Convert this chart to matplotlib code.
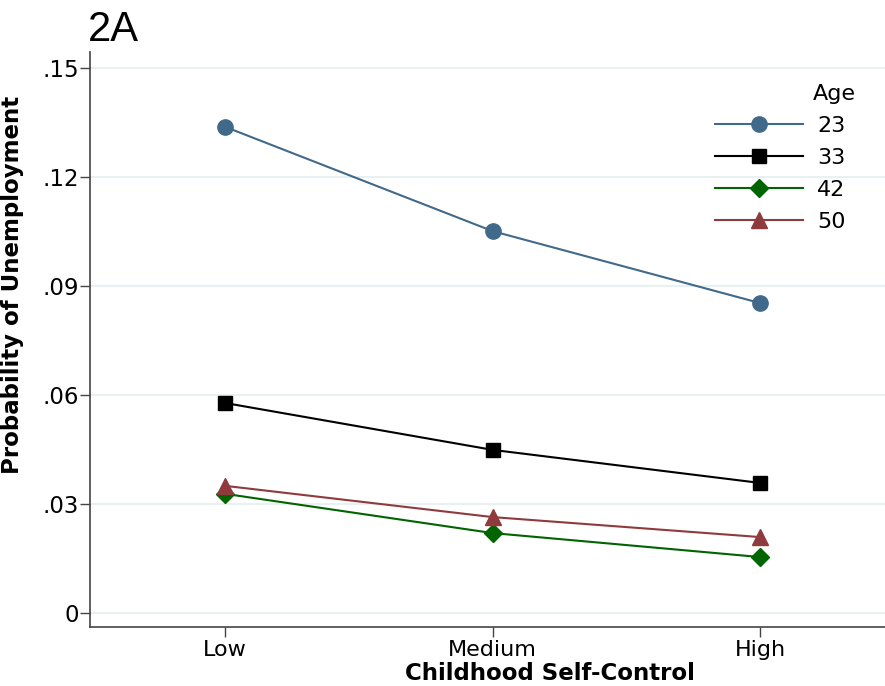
import matplotlib
matplotlib.use('Agg')
import matplotlib.pyplot as plt

# Data
levels = ['Low', 'Medium', 'High']
ages = ['23', '33', '42', '50']
age23 = [0.1338, 0.1051, 0.0853]
age33 = [0.0578, 0.0449, 0.0358]
age42 = [0.0328, 0.0220, 0.0154]
age50 = [0.0350, 0.0264, 0.0209]
yticks = [0, 0.03, 0.06, 0.09, 0.12, 0.15]
ytick_labels = ['0', '.03', '.06', '.09', '.12', '.15']

plt.rcParams['font.family'] = 'DejaVu Sans'

fig = plt.figure(figsize=(8.85, 6.86), dpi=100)
ax = fig.add_axes([90 / 885, 59 / 686, 795 / 885, 575 / 686])

x = list(range(len(levels)))
series = [
    (age23, '#41698a', 'o', 11),
    (age33, '#000000', 's', 10.5),
    (age42, '#006400', 'D', 9),
    (age50, '#8f3a3d', '^', 11),
]
for (vals, col, mk, ms), lab in zip(series, ages):
    ax.plot(x, vals, color=col, marker=mk, markersize=ms, linewidth=1.5, label=lab)

ax.set_xlim(-0.505, 2.467)
ax.set_ylim(-0.00385, 0.1544)
ax.set_xticks(x)
ax.set_xticklabels(levels)
ax.set_yticks(yticks)
ax.set_yticklabels(ytick_labels)
ax.grid(axis='y', color='#e8f0f2', linewidth=1.5)
ax.set_axisbelow(True)

for s in ['top', 'right']:
    ax.spines[s].set_visible(False)
for s in ['left', 'bottom']:
    ax.spines[s].set_color('#444444')
    ax.spines[s].set_linewidth(1.2)
ax.tick_params(axis='x', labelsize=16, length=7, color='#444444', width=1.0, pad=2)
ax.tick_params(axis='y', labelsize=16.5, length=7, color='#444444', width=1.0, pad=1)

ax.set_xlabel('Childhood Self-Control', fontsize=16.5, fontweight='bold')
ax.xaxis.set_label_coords(0.579, -0.06)
ax.set_ylabel('Probability of Unemployment', fontsize=16.5, fontweight='bold')
ax.yaxis.set_label_coords(-0.083, 0.595)

fig.text(88 / 885, 1 - 30 / 686, '2A', fontsize=30, family='Liberation Sans', va='center', ha='left')

leg = ax.legend(title='Age', loc='upper left', bbox_to_anchor=(0.786, 0.945), frameon=False,
                borderpad=0, borderaxespad=0,
                fontsize=16, title_fontsize=16, handlelength=3.96, labelspacing=0.54,
                handletextpad=0.65, alignment='right')
leg.get_title().set_position((10, 0))

fig.savefig('out.png', dpi=100, facecolor='white')
